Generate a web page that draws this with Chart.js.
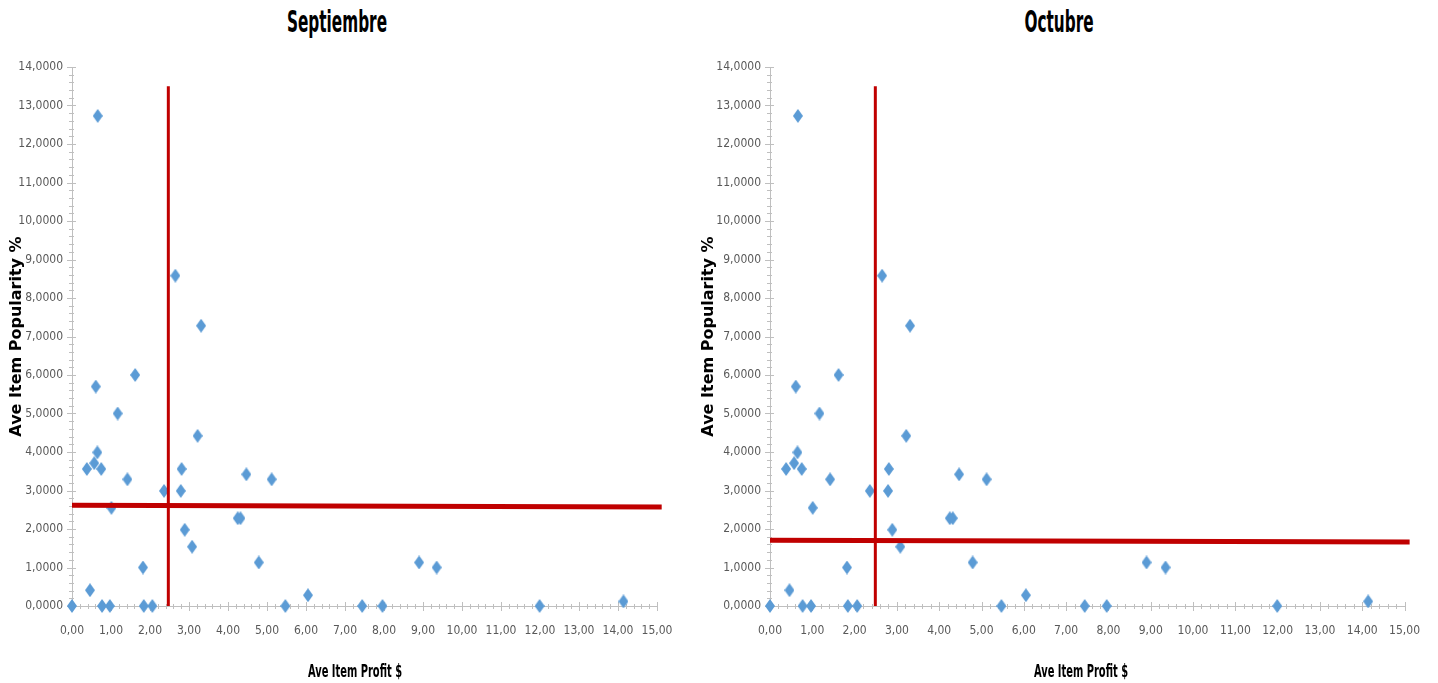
<!DOCTYPE html>
<html>
<head>
<meta charset="utf-8">
<script src="https://cdn.jsdelivr.net/npm/chart.js@4.4.1/dist/chart.umd.min.js"></script>
<style>
  body { margin: 0; background: #fff; width: 1438px; height: 683px; overflow: hidden; position: relative; }
  .box { position: absolute; top: 0; height: 683px; }
  #box-sep { left: 0; width: 698px; }
  #box-oct { left: 692px; width: 746px; }
  .title, .xtitle {
    position: absolute; width: 200px; text-align: center; color: #000;
    font-family: 'DejaVu Sans Condensed', sans-serif; font-weight: bold;
    transform-origin: center top;
  }
  .title { top: 4px; font-size: 17px; transform: scaleY(1.75); }
  .xtitle { top: 661px; font-size: 11px; line-height: 13px; transform: scaleY(1.6); }
</style>
</head>
<body>
<div class="title" style="left:237px">Septiembre</div>
<div class="title" style="left:959px">Octubre</div>
<div class="box" id="box-sep"><canvas id="chart-sep"></canvas></div>
<div class="box" id="box-oct"><canvas id="chart-oct"></canvas></div>
<div class="xtitle" style="left:255px">Ave Item Profit $</div>
<div class="xtitle" style="left:981px">Ave Item Profit $</div>

<script>
// Ave item profit ($) and popularity (%) per menu item, same for both months
const profit = [0.00, 0.46, 0.38, 0.57, 0.66, 0.61, 0.65, 0.75, 0.77, 0.97, 1.01, 1.17, 1.42, 1.62, 1.82, 1.84, 2.06, 2.36, 2.65, 2.81,
  2.79, 2.89, 3.08, 3.31, 3.22, 4.25, 4.32, 4.47, 4.79, 5.12, 5.47, 6.05, 7.44, 7.96, 8.90, 9.35, 11.99, 14.14];
const popularity = [0, 0.41, 3.56, 3.71, 12.73, 5.70, 3.99, 3.56, 0, 0, 2.55, 5.00, 3.29, 6.00, 1.00, 0, 0, 2.99, 8.58, 3.56,
  2.99, 1.98, 1.54, 7.28, 4.42, 2.28, 2.28, 3.42, 1.13, 3.29, 0, 0.28, 0, 0, 1.13, 1.00, 0, 0.12];

// red divider lines: vertical profit cut, horizontal popularity cut (start / end)
const sepProfitCut = 2.47;
const sepPopularityCut = [2.62, 2.57];
const octProfitCut = 2.49;
const octPopularityCut = [1.71, 1.66];
const cutTop = 13.5;
const cutEnd = 15.12;

const xTicks = { min: 0, max: 15, step: 1 };
const yTicks = { min: 0, max: 14, step: 1 };

function diamond(w, h, color) {
  const c = document.createElement('canvas');
  c.width = w;
  c.height = h;
  const g = c.getContext('2d');
  g.fillStyle = color;
  g.beginPath();
  g.moveTo(w / 2, 0);
  g.lineTo(w, h / 2);
  g.lineTo(w / 2, h);
  g.lineTo(0, h / 2);
  g.closePath();
  g.fill();
  return c;
}

const marker = diamond(10, 14, '#5b9bd5');

// Excel style tick marks, major and minor
const axisTicks = {
  id: 'axisTicks',
  beforeDatasetsDraw(chart) {
    const { ctx, scales: { x, y } } = chart;
    ctx.save();
    ctx.strokeStyle = '#bfbfbf';
    ctx.lineWidth = 1;
    ctx.beginPath();
    for (let i = 0; i <= xTicks.max * 5; i++) {
      const px = Math.round(x.getPixelForValue(i / 5)) + 0.5;
      const major = i % 5 === 0;
      ctx.moveTo(px, y.bottom - (major ? 4 : 2));
      ctx.lineTo(px, y.bottom + (major ? 5 : 3));
    }
    for (let i = 0; i <= yTicks.max * 5; i++) {
      const py = Math.round(y.getPixelForValue(i / 5)) + 0.5;
      const major = i % 5 === 0;
      ctx.moveTo(x.left - (major ? 5 : 3), py);
      ctx.lineTo(x.left + (major ? 4 : 2), py);
    }
    ctx.stroke();
    ctx.restore();
  }
};

const narrow = "'DejaVu Sans Condensed', sans-serif";
const tickFont = { family: narrow, size: 12 };

function makeChart(id, profitCut, popCut, yAxisWidth, rightPad) {
  const points = profit.map((p, i) => ({ x: p, y: popularity[i] }));
  return new Chart(document.getElementById(id), {
    type: 'scatter',
    data: {
      datasets: [
        {
          data: points,
          pointStyle: marker,
          pointBackgroundColor: '#5b9bd5',
          clip: false,
          order: 2,
        },
        {
          type: 'line',
          data: [{ x: profitCut, y: 0 }, { x: profitCut, y: cutTop }],
          borderColor: '#c00000',
          borderWidth: 3,
          pointRadius: 0,
          order: 1,
        },
        {
          type: 'line',
          data: [{ x: 0, y: popCut[0] }, { x: cutEnd, y: popCut[1] }],
          borderColor: '#c00000',
          borderWidth: 5,
          pointRadius: 0,
          clip: false,
          order: 0,
        },
      ],
    },
    options: {
      responsive: true,
      maintainAspectRatio: false,
      animation: false,
      layout: { padding: { top: 67, right: rightPad, bottom: 0, left: 0 } },
      plugins: {
        legend: { display: false },
        tooltip: { enabled: false },
      },
      scales: {
        x: {
          type: 'linear',
          min: xTicks.min,
          max: xTicks.max,
          afterFit: (s) => { s.height = 77; },
          border: { color: '#bfbfbf' },
          grid: { drawOnChartArea: false, drawTicks: false },
          ticks: {
            stepSize: xTicks.step,
            autoSkip: false,
            maxRotation: 0,
            padding: 18,
            color: '#595959',
            font: tickFont,
            callback: (v) => v.toFixed(2).replace('.', ','),
          },
        },
        y: {
          min: yTicks.min,
          max: yTicks.max,
          afterFit: (s) => { s.width = yAxisWidth; },
          border: { color: '#bfbfbf' },
          grid: { drawOnChartArea: false, drawTicks: false },
          ticks: {
            stepSize: yTicks.step,
            autoSkip: false,
            padding: 9,
            color: '#595959',
            font: tickFont,
            callback: (v) => v.toFixed(4).replace('.', ','),
          },
          title: {
            display: true,
            text: 'Ave Item Popularity %',
            color: '#000',
            padding: { top: 7, bottom: 0 },
            font: { family: "'DejaVu Sans', sans-serif", size: 16, weight: 'bold' },
          },
        },
      },
    },
    plugins: [axisTicks],
  });
}

makeChart('chart-sep', sepProfitCut, sepPopularityCut, 72, 41);
makeChart('chart-oct', octProfitCut, octPopularityCut, 78, 28);
</script>
</body>
</html>
